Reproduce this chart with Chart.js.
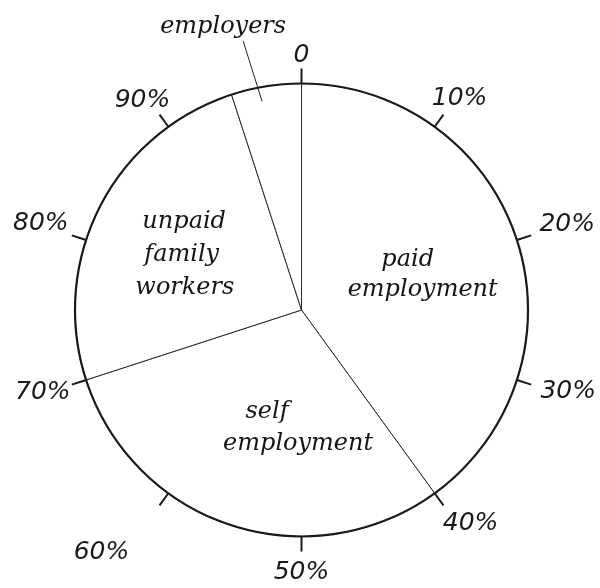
<!DOCTYPE html>
<html><head><meta charset="utf-8">
<script src="https://cdn.jsdelivr.net/npm/chart.js@4/dist/chart.umd.min.js"></script>
<style>html,body{margin:0;padding:0;background:#fff;} #wrap{width:600px;height:588px;position:relative;}</style>
</head><body><div id="wrap"><canvas id="c"></canvas></div>
<script>
// ---- data ----
const categories = ['paid employment', 'self employment', 'unpaid family workers', 'employers'];
const shares = [40, 30, 25, 5];
const labelLines = [['paid', 'employment'], ['self', 'employment'], ['unpaid', 'family', 'workers'], ['employers']];
const tickValues = [0, 10, 20, 30, 40, 50, 60, 70, 80, 90];
const tickLabels = ['0', '10%', '20%', '30%', '40%', '50%', '60%', '70%', '80%', '90%'];

// ---- layout (kept separate from the data) ----
const labelPlacement = [
  [[0.469, -0.194], [0.535, -0.062]],
  [[-0.152, 0.476], [-0.015, 0.617]],
  [[-0.518, -0.361], [-0.529, -0.216], [-0.515, -0.070]],
  [[-0.346, -1.225]]
];
const leader = [[-0.258, -1.189], [-0.174, -0.921]];
const tickLabelNudge = [[0, 0], [2, 1], [5, -3], [6, -6], [13, -4], [0, 3], [-44, 25], [2, -5], [0, -4], [-3, 3]];

const SERIF = "italic 24px 'DejaVu Serif'";
const SANS = "italic 25px 'DejaVu Sans'";

const decor = {
  id: 'decor',
  afterDatasetsDraw(chart) {
    const ctx = chart.ctx;
    const arc = chart.getDatasetMeta(0).data[0];
    const cx = arc.x, cy = arc.y, R = arc.outerRadius;
    ctx.save();
    // outer circle
    ctx.strokeStyle = '#1a1a1a';
    ctx.lineWidth = 2.2;
    ctx.beginPath(); ctx.arc(cx, cy, R, 0, Math.PI * 2); ctx.stroke();
    // ticks and tick labels
    const tickLen = 15, gap = 6;
    ctx.font = SANS;
    ctx.fillStyle = '#1a1a1a';
    ctx.textAlign = 'center';
    ctx.textBaseline = 'alphabetic';
    tickValues.forEach((v, i) => {
      const a = v / 100 * Math.PI * 2;
      const s = Math.sin(a), c = -Math.cos(a);
      ctx.lineWidth = 2;
      ctx.beginPath();
      ctx.moveTo(cx + s * R, cy + c * R);
      ctx.lineTo(cx + s * (R + tickLen), cy + c * (R + tickLen));
      ctx.stroke();
      const w = ctx.measureText(tickLabels[i]).width;
      const hw = w / 2, hh = 9.2;
      const r = R + tickLen + gap + Math.sqrt((hw * s) ** 2 + (hh * c) ** 2);
      const n = tickLabelNudge[i];
      ctx.fillText(tickLabels[i], cx + s * r + n[0], cy + c * r + 9 + n[1]);
    });
    // slice labels
    ctx.font = SERIF;
    ctx.fillStyle = '#151515';
    labelLines.forEach((lines, k) => {
      lines.forEach((t, j) => {
        const p = labelPlacement[k][j];
        ctx.fillText(t, cx + p[0] * R, cy + p[1] * R);
      });
    });
    // leader line for employers
    ctx.lineWidth = 1;
    ctx.strokeStyle = '#222';
    ctx.beginPath();
    ctx.moveTo(cx + leader[0][0] * R, cy + leader[0][1] * R);
    ctx.lineTo(cx + leader[1][0] * R, cy + leader[1][1] * R);
    ctx.stroke();
    ctx.restore();
  }
};

new Chart(document.getElementById('c'), {
  type: 'pie',
  data: {
    labels: categories,
    datasets: [{
      data: shares,
      backgroundColor: '#ffffff',
      borderColor: '#2a2a2a',
      borderWidth: 1
    }]
  },
  options: {
    responsive: true,
    maintainAspectRatio: false,
    animation: false,
    layout: { padding: { top: 83, bottom: 51, left: 74.5, right: 71.5 } },
    plugins: { legend: { display: false }, tooltip: { enabled: false } }
  },
  plugins: [decor]
});
</script>
</body></html>
